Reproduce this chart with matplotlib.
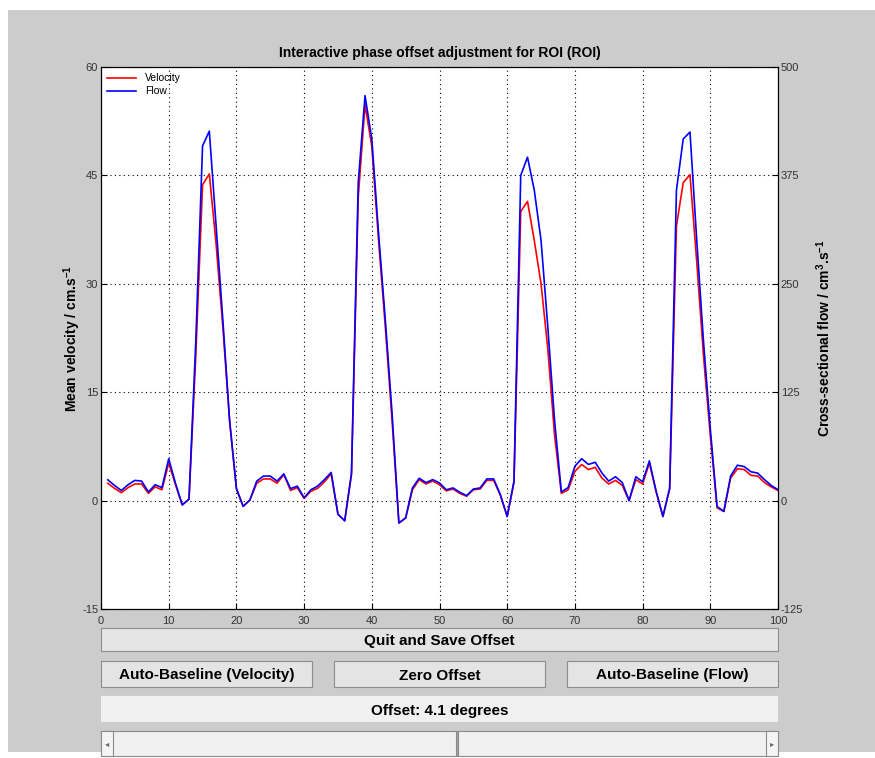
import numpy as np
import matplotlib
matplotlib.use("Agg")
import matplotlib.pyplot as plt
from matplotlib.patches import Rectangle

plt.rcParams['font.family'] = ['Liberation Sans', 'DejaVu Sans']
plt.rcParams['axes.unicode_minus'] = False
plt.rcParams['mathtext.default'] = 'regular'

# frame index (1..100)
frames = np.arange(1, 101)

# mean velocity (cm/s)
velocity = [2.4, 1.7, 1.1, 1.8, 2.3, 2.3, 1.0, 1.9, 1.5, 5.2,
            2.2, -0.6, 0.2, 20, 43.7, 45.2, 35.5, 24, 11, 1.6,
            -0.8, 0.1, 2.4, 3.0, 3.0, 2.4, 3.6, 1.4, 1.8, 0.3,
            1.3, 1.7, 2.6, 3.7, -1.9, -2.8, 3.6, 42, 54.8, 49,
            36, 24, 11, -3.1, -2.4, 1.5, 2.9, 2.3, 2.7, 2.2,
            1.35, 1.6, 1.0, 0.6, 1.5, 1.6, 2.8, 2.8, 0.7, -2.2,
            2.5, 40.0, 41.4, 36, 30, 21, 9, 1.0, 1.5, 4.05,
            5.0, 4.3, 4.6, 3.1, 2.3, 2.8, 2.1, 0.0, 2.9, 2.3,
            5.2, 1.2, -2.2, 1.6, 38, 44, 45.1, 33, 20, 9,
            -1.0, -1.5, 3.1, 4.4, 4.3, 3.5, 3.4, 2.5, 1.9, 1.4]

# cross-sectional flow (cm3/s)
flow = [24, 17.5, 11.7, 18.3, 23.3, 22.5, 10, 18.3, 15, 48.3,
        20, -5, 1.7, 183, 409, 426, 317, 208, 92, 14.2,
        -6.7, 0.8, 22.5, 28.3, 28.3, 22.5, 30.8, 13.8, 16.7, 3.3,
        12.5, 16.7, 24.2, 32.5, -15.8, -23.3, 31.7, 367, 467, 417,
        308, 208, 100, -25.8, -20, 14.6, 25.8, 20.8, 24.2, 20.4,
        12.5, 14.6, 9.6, 5.8, 13.3, 14.6, 25, 25, 6.7, -18.3,
        22.5, 375, 396, 358, 300, 200, 92, 10, 15, 39.6,
        48.3, 41.7, 44.2, 31.7, 22.5, 27.5, 20.8, 0, 27.5, 21.7,
        45.8, 10.8, -18.3, 14.6, 358, 417, 425, 300, 183, 83,
        -6.7, -12.5, 28.3, 40.8, 39.2, 33.3, 31.7, 24.2, 17.5, 12.5]

vel_ticks = [-15, 0, 15, 30, 45, 60]
flow_ticks = [-125, 0, 125, 250, 375, 500]
x_ticks = list(range(0, 101, 10))

W, H = 875, 758
fig = plt.figure(figsize=(W / 100, H / 100), dpi=100)
fig.patch.set_facecolor("white")


def box(x0, y0, x1, y1):
    # pixel box (top-left origin) -> figure fraction rect
    return [x0 / W, 1 - y1 / H, (x1 - x0) / W, (y1 - y0) / H]


# gray window background
bg = box(8, 10, 875, 752)
fig.add_artist(Rectangle((bg[0], bg[1]), bg[2], bg[3], transform=fig.transFigure,
                         facecolor="#cccccc", edgecolor="none", zorder=-10))

ax = fig.add_axes(box(101, 67, 778, 609))
ax2 = ax.twinx()

ax.plot(frames, velocity, color="red", lw=1.2, label="Velocity")
l2, = ax2.plot(frames, flow, color="blue", lw=1.2, label="Flow")

ax.set_xlim(0, 100)
ax.set_ylim(-15, 60)
ax2.set_ylim(-125, 500)
ax.set_xticks(x_ticks)
ax.set_yticks(vel_ticks)
ax2.set_yticks(flow_ticks)
ax.grid(True, color="black", linestyle=(0, (1, 3)), lw=0.8)

for a in (ax, ax2):
    a.tick_params(direction="in", labelsize=8, labelcolor="#333333", length=4, width=0.8,
                  pad=2)
    for s in a.spines.values():
        s.set_linewidth(0.8)
ax.tick_params(axis="x", pad=5)

ax.set_ylabel("Mean velocity / cm.s$^{-1}$", fontsize=10, fontweight="bold", labelpad=-1)
ax2.set_ylabel("Cross-sectional flow / cm$^{3}$.s$^{-1}$", fontsize=10, fontweight="bold",
               labelpad=8)
ax.set_title("Interactive phase offset adjustment for ROI (ROI)", fontsize=10,
             fontweight="bold", pad=7)

h1, lab1 = ax.get_legend_handles_labels()
leg = ax2.legend(h1 + [l2], lab1 + ["Flow"], loc="upper left", fontsize=7.5,
                 frameon=False, handlelength=2.8, borderaxespad=0.2, labelspacing=0.3)


def button(x0, y0, x1, y1, text, face="#e4e4e4", size=11):
    r = box(x0, y0, x1, y1)
    fig.add_artist(Rectangle((r[0], r[1]), r[2], r[3], transform=fig.transFigure,
                             facecolor=face, edgecolor="#8c8c8c", lw=0.8))
    if text:
        fig.text(r[0] + r[2] / 2, r[1] + r[3] / 2, text, ha="center", va="center_baseline",
                 fontsize=size, fontweight="bold")


button(101, 628, 778, 651, "Quit and Save Offset")
button(101, 661, 312, 687, "Auto-Baseline (Velocity)")
button(334, 661, 545, 687, "Zero Offset")
button(567, 661, 778, 687, "Auto-Baseline (Flow)")

r = box(101, 696, 778, 722)
fig.add_artist(Rectangle((r[0], r[1]), r[2], r[3], transform=fig.transFigure,
                         facecolor="#f0f0f0", edgecolor="none"))
fig.text(r[0] + r[2] / 2, r[1] + r[3] / 2, "Offset: 4.1 degrees", ha="center",
         va="center_baseline", fontsize=11, fontweight="bold")

# slider
button(101, 731, 778, 756, "", face="#f0f0f0")
button(101, 731, 113, 756, "", face="#f4f4f4")
button(766, 731, 778, 756, "", face="#f4f4f4")
button(456, 731, 458, 756, "", face="#a0a0a0")
fig.text(107 / W, 1 - 744 / H, "\u25c2", ha="center", va="center", fontsize=6,
         color="#666666", family="DejaVu Sans")
fig.text(772 / W, 1 - 744 / H, "\u25b8", ha="center", va="center", fontsize=6,
         color="#666666", family="DejaVu Sans")

fig.savefig("out.png", dpi=100)
